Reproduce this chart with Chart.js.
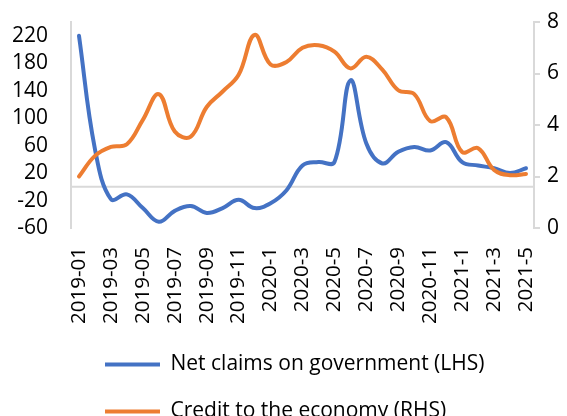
<!DOCTYPE html>
<html>
<head>
<meta charset="utf-8">
<script src="https://cdn.jsdelivr.net/npm/chart.js@4/dist/chart.umd.min.js"></script>
<style>
  html,body{margin:0;padding:0;background:#fff;overflow:hidden}
  #wrap{width:567px;height:432px;position:relative}
</style>
</head>
<body>
<div id="wrap"><canvas id="chart"></canvas></div>
<script>
// ── DATA ─────────────────────────────────────────────────
const months = ['2019-01','2019-02','2019-03','2019-04','2019-05','2019-06','2019-07','2019-08','2019-09','2019-10','2019-11','2019-12',
  '2020-1','2020-2','2020-3','2020-4','2020-5','2020-6','2020-7','2020-8','2020-9','2020-10','2020-11','2020-12',
  '2021-1','2021-2','2021-3','2021-4','2021-5'];
const netClaims = [220, 55, -18, -11, -31, -51, -35, -28, -38, -31, -19, -31, -24, -5, 31, 36, 36, 155, 63, 34, 51, 58, 53, 65, 36, 31, 27, 20, 27];
const creditEconomy = [2.0, 2.8, 3.15, 3.25, 4.2, 5.2, 3.75, 3.55, 4.7, 5.3, 5.95, 7.5, 6.35, 6.45, 7.0, 7.1, 6.85, 6.2, 6.65, 6.15, 5.35, 5.2, 4.15, 4.3, 2.95, 3.1, 2.25, 2.05, 2.1];
const leftTicks = [-60, -20, 20, 60, 100, 140, 180, 220];
const rightTicks = [0, 2, 4, 6, 8];

const FONT = "'Open Sans', 'Liberation Sans', sans-serif";
const AXIS = '#D9D9D9';

// zero line across the plot (Excel draws the category axis at 0)
const zeroLine = {
    id:'zeroLine',
    beforeDatasetsDraw(chart){
        const {ctx, chartArea:a} = chart;
        const y = chart.scales.yL.getPixelForValue(0);
        ctx.save();
        ctx.strokeStyle = AXIS; ctx.lineWidth = 2;
        ctx.beginPath(); ctx.moveTo(a.left, y); ctx.lineTo(a.right, y); ctx.stroke();
        ctx.restore();
    }
};

// keep legend rows left-aligned under each other
const legendStart = {
    id:'legendStart',
    afterLayout(chart){
        const lg = chart.legend;
        lg.left = 105 - lg.options.labels.padding;
    }
};

const noEdgePad = s=>{s.paddingTop=0;s.paddingBottom=0;s.paddingLeft=0;s.paddingRight=0;};

new Chart(document.getElementById('chart'),{
    type:'line',
    data:{
        labels:months,
        datasets:[
            {label:'Net claims on government (LHS)',data:netClaims,yAxisID:'yL',borderColor:'#4472C4',backgroundColor:'#4472C4',
             borderWidth:4,pointRadius:0,tension:0.4,borderCapStyle:'round',borderJoinStyle:'round',order:1},
            {label:'Credit to the economy (RHS)',data:creditEconomy,yAxisID:'yR',borderColor:'#ED7D31',backgroundColor:'#ED7D31',
             borderWidth:4,pointRadius:0,tension:0.4,borderCapStyle:'round',borderJoinStyle:'round',order:0}
        ]
    },
    options:{
        responsive:true,maintainAspectRatio:false,animation:false,
        layout:{padding:{top:22,left:0,right:0,bottom:0}},
        plugins:{
            tooltip:{enabled:false},
            legend:{
                position:'bottom',align:'start',
                labels:{usePointStyle:true,pointStyle:'line',pointStyleWidth:55,padding:26,color:'#000',
                    font:{family:FONT,size:21},
                    sort:(a,b)=>a.datasetIndex-b.datasetIndex}
            }
        },
        scales:{
            x:{
                offset:true,
                grid:{display:false,drawTicks:false,offset:true},border:{display:false},
                ticks:{autoSkip:false,maxRotation:90,minRotation:90,padding:19,color:'#000',font:{family:FONT,size:20.5},
                    callback:(v,i)=>i%2===0?months[i]:''},
                afterFit:s=>{s.height=100;noEdgePad(s);}
            },
            yL:{
                position:'left',min:-60,max:240,
                grid:{drawOnChartArea:false,drawTicks:false},
                border:{color:AXIS,width:2},
                ticks:{autoSkip:false,padding:23,color:'#000',font:{family:FONT,size:21}},
                afterBuildTicks:s=>{s.ticks=leftTicks.map(v=>({value:v}));},
                afterFit:s=>{s.width=71;noEdgePad(s);}
            },
            yR:{
                position:'right',min:0,max:8,
                grid:{drawOnChartArea:false,drawTicks:true,tickLength:6,color:AXIS,lineWidth:2},
                border:{color:AXIS,width:2},
                ticks:{autoSkip:false,padding:7,color:'#000',font:{family:FONT,size:21}},
                afterBuildTicks:s=>{s.ticks=rightTicks.map(v=>({value:v}));},
                afterFit:s=>{s.width=33;noEdgePad(s);}
            }
        }
    },
    plugins:[zeroLine,legendStart]
});
</script>
</body>
</html>
